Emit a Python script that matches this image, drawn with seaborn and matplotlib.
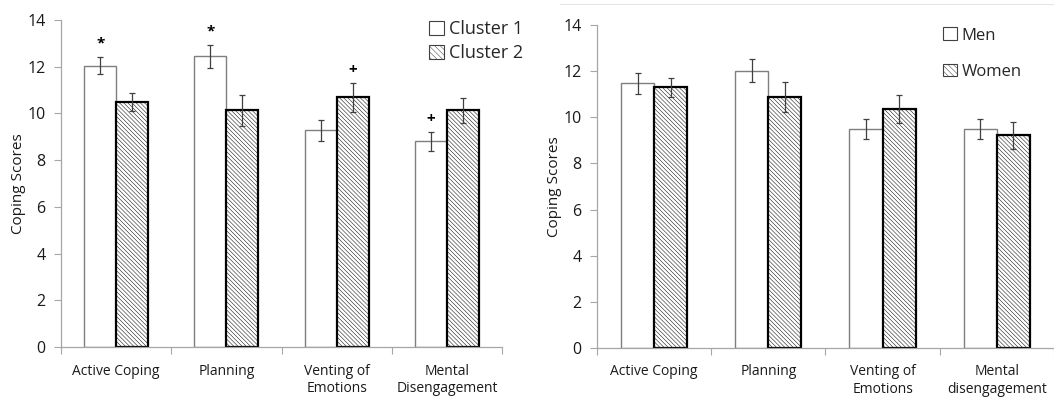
import matplotlib
matplotlib.use("Agg")
import matplotlib.pyplot as plt
from matplotlib.patches import Patch
from matplotlib.lines import Line2D
import seaborn as sns
import pandas as pd
import numpy as np

# ---- data ----
categories_left = ["Active Coping", "Planning", "Venting of\nEmotions", "Mental\nDisengagement"]
cluster1 = [12.05, 12.45, 9.28, 8.8]
cluster1_err = [0.38, 0.5, 0.45, 0.4]
cluster2 = [10.5, 10.13, 10.7, 10.13]
cluster2_err = [0.38, 0.65, 0.62, 0.53]
marks_c1 = ["*", "*", "", "+"]
marks_c2 = ["", "", "+", ""]

categories_right = ["Active Coping", "Planning", "Venting of\nEmotions", "Mental\ndisengagement"]
men = [11.48, 12.02, 9.5, 9.5]
men_err = [0.45, 0.5, 0.43, 0.43]
women = [11.3, 10.9, 10.37, 9.23]
women_err = [0.4, 0.65, 0.6, 0.58]

yticks = [0, 2, 4, 6, 8, 10, 12, 14]

sns.set_theme(style="white")
plt.rcParams['font.family'] = ['Open Sans', 'DejaVu Sans']
plt.rcParams['hatch.linewidth'] = 0.35

fig = plt.figure(figsize=(10.54, 3.98), dpi=100)
axL = fig.add_axes([0.0579, 0.128, 0.4184, 0.8217])
axR = fig.add_axes([0.5664, 0.1264, 0.4336, 0.81])

AX_COLOR = "#a6a6a6"


def draw(ax, cats, s1, e1, s2, e2, names, m1=None, m2=None):
    df = pd.DataFrame({
        "cat": cats * 2,
        "val": list(s1) + list(s2),
        "grp": [names[0]] * len(cats) + [names[1]] * len(cats),
    })
    sns.barplot(data=df, x="cat", y="val", hue="grp", order=cats,
                hue_order=names, errorbar=None, width=0.58, ax=ax,
                palette=["white", "white"], legend=False)
    c1, c2 = ax.containers[0], ax.containers[1]
    for p in c1.patches:
        p.set_edgecolor("#7f7f7f")
        p.set_linewidth(1.0)
        p.set_facecolor("white")
    for p in c2.patches:
        p.set_edgecolor("black")
        p.set_linewidth(1.6)
        p.set_facecolor("white")
        p.set_hatch("\\\\\\\\\\\\\\\\")
    for cont, errs, marks in ((c1, e1, m1), (c2, e2, m2)):
        xs = [p.get_x() + p.get_width() / 2 for p in cont.patches]
        hs = [p.get_height() for p in cont.patches]
        ax.errorbar(xs, hs, yerr=errs, fmt="none", ecolor="#404040",
                    elinewidth=0.9, capsize=2.5, capthick=0.9, zorder=5)
        if marks:
            for x, h, e, mk in zip(xs, hs, errs, marks):
                if mk:
                    ax.text(x, h + e + 0.25, mk, ha="center", va="bottom",
                            fontsize=11, fontweight="bold", color="black")
    ax.set_ylim(0, 14)
    ax.set_xlim(-0.5, len(cats) - 0.5)
    ax.set_yticks(yticks)
    ax.set_yticklabels([str(v) for v in yticks], fontsize=11.5, color="#1a1a1a")
    ax.set_xticks(np.arange(-0.5, len(cats)), minor=False)
    ax.set_xticklabels([""] * (len(cats) + 1))
    ax.set_xticks(np.arange(len(cats)), minor=True)
    ax.set_xticklabels(cats, minor=True, fontsize=10, color="#1a1a1a")
    ax.tick_params(axis="x", which="major", length=5, width=0.8,
                   color=AX_COLOR, direction="out", bottom=True)
    ax.tick_params(axis="x", which="minor", length=0, pad=12)
    ax.tick_params(axis="y", length=5, width=0.8, color=AX_COLOR,
                   direction="out", left=True, pad=6)
    ax.set_xlabel("")
    ax.set_ylabel("Coping Scores", fontsize=11, color="#1a1a1a", labelpad=1)
    for s in ("top", "right"):
        ax.spines[s].set_visible(False)
    for s in ("left", "bottom"):
        ax.spines[s].set_color(AX_COLOR)
        ax.spines[s].set_linewidth(0.9)
    ax.set_facecolor("white")


draw(axL, categories_left, cluster1, cluster1_err, cluster2, cluster2_err,
     ["Cluster 1", "Cluster 2"], marks_c1, marks_c2)
draw(axR, categories_right, men, men_err, women, women_err, ["Men", "Women"])

h1 = Patch(facecolor="white", edgecolor="#404040", linewidth=0.8)
h2 = Patch(facecolor="white", edgecolor="#404040", linewidth=0.8, hatch="\\\\\\\\\\\\")
axL.legend([h1, h2], ["Cluster 1", "Cluster 2"], loc="upper right",
           bbox_to_anchor=(1.085, 1.05), frameon=False, fontsize=13,
           handlelength=0.8, handleheight=0.8, handletextpad=0.3,
           labelspacing=0.35)
axR.legend([h1, h2], ["Men", "Women"], loc="upper left",
           bbox_to_anchor=(0.725, 1.04), frameon=False, fontsize=12,
           handlelength=0.8, handleheight=0.8, handletextpad=0.3,
           labelspacing=1.2)

fig.add_artist(Line2D([0.531, 1.0], [0.99, 0.99], color="#e6e6e6",
                      linewidth=0.8, transform=fig.transFigure))

fig.savefig("out.png", dpi=100, facecolor="white")
